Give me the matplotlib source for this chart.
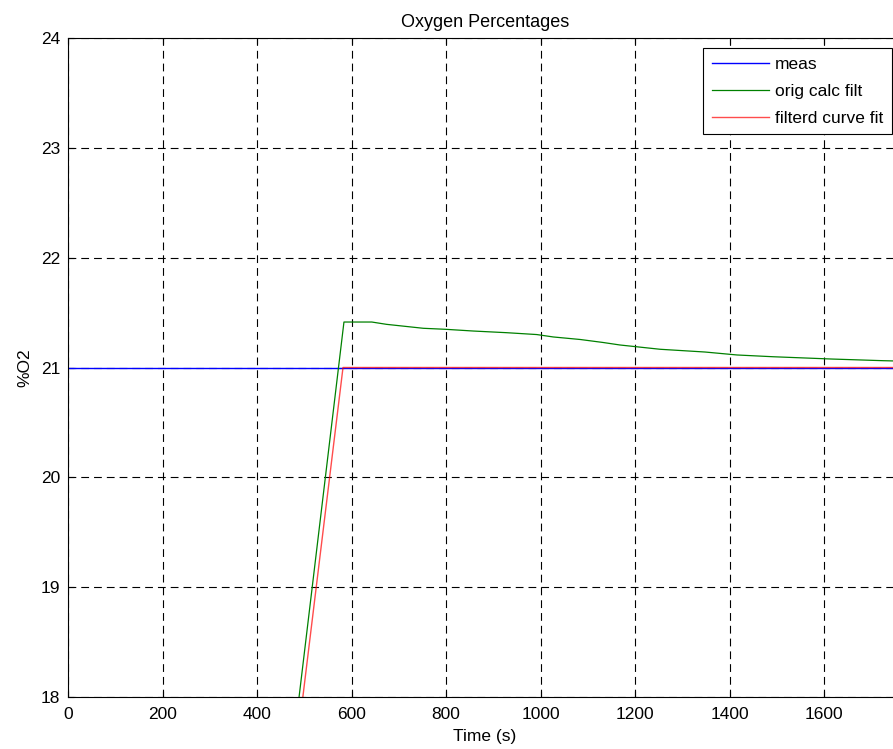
import matplotlib
matplotlib.use("Agg")
import matplotlib.pyplot as plt

plt.rcParams['font.family'] = ['Liberation Sans', 'DejaVu Sans']

# measured O2, flat
meas_t = [0, 1765]
meas_v = [21.0, 21.0]

# original calculated filter (green)
orig_t = [489, 584, 643, 674, 752, 798, 858, 928, 992, 1027, 1084, 1132,
          1168, 1253, 1348, 1416, 1492, 1617, 1725, 1765]
orig_v = [18.0, 21.414, 21.414, 21.393, 21.357, 21.348, 21.332, 21.317,
          21.300, 21.278, 21.255, 21.228, 21.205, 21.166, 21.141, 21.114,
          21.098, 21.077, 21.062, 21.058]

# filtered curve fit (red)
filt_t = [497, 582, 1765]
filt_v = [18.0, 21.0, 21.0]

xticks = [0, 200, 400, 600, 800, 1000, 1200, 1400, 1600]
yticks = [18, 19, 20, 21, 22, 23, 24]

fig = plt.figure(figsize=(8.93, 7.49), dpi=100)
W, H = 893, 749
ax = fig.add_axes([68 / W, (H - 697) / H, (902 - 68) / W, 659 / H])

ax.plot(meas_t, meas_v, color='#0000ff', lw=1.0, label='meas')
ax.plot(orig_t, orig_v, color='#008000', lw=0.9, label='orig calc filt')
ax.plot(filt_t, filt_v, color='#ff0000', lw=1.0, alpha=0.7, label='filterd curve fit')

ax.set_xlim(0, 1765)
ax.set_ylim(18, 24)
ax.set_xticks(xticks)
ax.set_yticks(yticks)
ax.grid(True, color='black', linestyle=(0, (7, 4.5)), linewidth=0.8)
ax.tick_params(direction='in', top=True, right=True, length=4, width=0.8,
               labelsize=12.5)
ax.tick_params(axis='x', pad=7)
ax.tick_params(axis='y', pad=5.5)
for s in ax.spines.values():
    s.set_linewidth(0.8)

ax.set_title('Oxygen Percentages', fontsize=13, pad=8)
ax.set_xlabel('Time (s)', fontsize=12.5, labelpad=5)
ax.set_ylabel('%O2', fontsize=12.5, labelpad=6)

leg = ax.legend(loc='upper right', bbox_to_anchor=(892 / W, (H - 48) / H),
                bbox_transform=fig.transFigure, borderaxespad=0,
                fancybox=False, framealpha=1, edgecolor='black',
                fontsize=12.5, handlelength=3.3, handletextpad=0.35,
                labelspacing=0.68, borderpad=0.5)
leg.get_frame().set_linewidth(0.8)

fig.savefig('out.png', dpi=100)
